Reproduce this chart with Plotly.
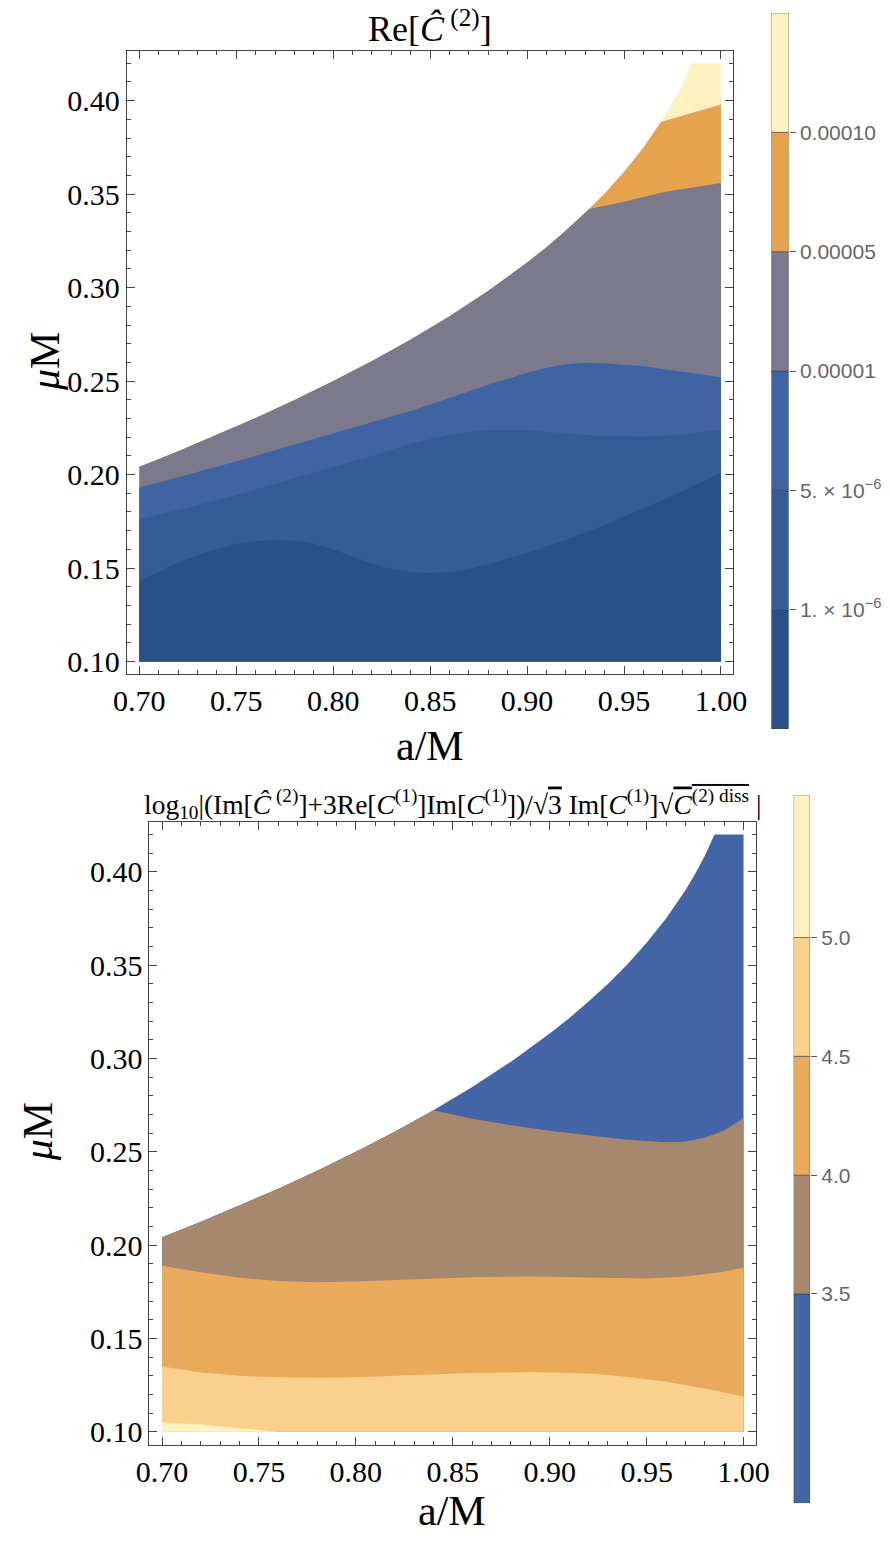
import plotly.graph_objects as go

# ---------------- data ----------------
# physical boundary of the domain (same in both panels)
edge_a = [0.70, 0.72, 0.74, 0.76, 0.78, 0.80, 0.82, 0.84, 0.86, 0.88, 0.90, 0.91, 0.92,
          0.93, 0.94, 0.95, 0.96, 0.97, 0.975, 0.98, 0.985, 1.00]
edge_mu = [0.2042, 0.2125, 0.2212, 0.2303, 0.2399, 0.2500, 0.2608, 0.2723, 0.2847,
           0.2983, 0.3134, 0.3216, 0.3305, 0.3400, 0.3504, 0.3620, 0.3750, 0.3902,
           0.3989, 0.4087, 0.4200, 0.4200]
mu_min = 0.10

# top panel: Re[C^(2)] contour boundaries
top_c1_a = [0.70, 0.71, 0.72, 0.73, 0.74, 0.75, 0.76, 0.77, 0.78, 0.79, 0.80, 0.81, 0.82, 0.83,
            0.84, 0.85, 0.86, 0.87, 0.88, 0.90, 0.92, 0.94, 0.96, 0.98, 1.00]
top_c1_mu = [0.143, 0.148, 0.153, 0.157, 0.160, 0.163, 0.1645, 0.165, 0.1648, 0.163, 0.160, 0.156,
             0.1525, 0.1495, 0.1478, 0.1473, 0.1478, 0.1495, 0.152, 0.158, 0.165, 0.173, 0.182,
             0.191, 0.201]
top_c2_a = [0.70, 0.72, 0.75, 0.78, 0.80, 0.82, 0.84, 0.86, 0.88, 0.90, 0.92, 0.94, 0.96, 0.98, 1.00]
top_c2_mu = [0.176, 0.181, 0.189, 0.198, 0.204, 0.210, 0.2165, 0.2215, 0.2238, 0.2238, 0.222,
             0.2205, 0.2203, 0.2215, 0.224]
top_c3_a = [0.70, 0.75, 0.80, 0.84, 0.86, 0.88, 0.90, 0.91, 0.92, 0.93, 0.94, 0.96, 0.98, 1.00]
top_c3_mu = [0.193, 0.207, 0.222, 0.234, 0.241, 0.248, 0.2545, 0.257, 0.259, 0.2598, 0.2596,
             0.258, 0.255, 0.252]
top_c4_a = [0.932, 0.95, 0.97, 1.00]
top_c4_mu = [0.3421, 0.346, 0.351, 0.356]
top_c5_a = [0.969, 0.98, 1.00]
top_c5_mu = [0.3886, 0.392, 0.398]
top_levels = ["1. × 10<sup>−6</sup>", "5. × 10<sup>−6</sup>", "0.00001", "0.00005", "0.00010"]
top_colors = ["#27538a", "#355c97", "#4063a3", "#7a7a8c", "#e6a24d", "#fdf2c0"]

# bottom panel: log10 ratio contour boundaries
bot_c1_a = [0.84, 0.86, 0.88, 0.90, 0.92, 0.94, 0.96, 0.97, 0.98, 0.99, 1.00]
bot_c1_mu = [0.2723, 0.2678, 0.2643, 0.2613, 0.2588, 0.2565, 0.2552, 0.2555, 0.2575, 0.2615, 0.268]
bot_c2_a = [0.70, 0.72, 0.74, 0.76, 0.78, 0.80, 0.83, 0.86, 0.89, 0.92, 0.95, 0.97, 0.99, 1.00]
bot_c2_mu = [0.189, 0.1855, 0.1825, 0.1808, 0.1802, 0.1805, 0.1818, 0.1828, 0.1832, 0.1828,
             0.1822, 0.1832, 0.1858, 0.188]
bot_c3_a = [0.70, 0.72, 0.74, 0.76, 0.78, 0.80, 0.83, 0.86, 0.89, 0.92, 0.94, 0.96, 0.98, 1.00]
bot_c3_mu = [0.135, 0.1318, 0.130, 0.1292, 0.129, 0.1293, 0.1303, 0.1315, 0.132, 0.1312, 0.1295,
             0.1268, 0.1232, 0.119]
bot_c4_a = [0.70, 0.72, 0.74, 0.76]
bot_c4_mu = [0.105, 0.104, 0.102, 0.100]
bot_levels = [2.62, 3.5, 4.0, 4.5, 5.0, 5.6]
bot_ticks = [3.5, 4.0, 4.5, 5.0]
bot_colors = ["#4466a6", "#a5886e", "#eaaa5c", "#f9d18c", "#fef2c2"]

# ---------------- helpers ----------------
def domain_poly():
    xs = [edge_a[0]] + edge_a + [edge_a[-1], edge_a[0]]
    ys = [mu_min] + edge_mu + [mu_min, mu_min]
    return xs, ys

def below_poly(ca, cm):
    xs, ys = [edge_a[0]], [mu_min]
    if ca[0] > edge_a[0] + 1e-9:
        for a, m in zip(edge_a, edge_mu):
            if a < ca[0] - 1e-9:
                xs.append(a); ys.append(m)
    xs += list(ca); ys += list(cm)
    xs += [ca[-1], edge_a[0]]; ys += [mu_min, mu_min]
    return xs, ys

fig = go.Figure()

def add_fill(xs, ys, color, xa, ya):
    fig.add_trace(go.Scatter(x=xs, y=ys, fill="toself", fillcolor=color, mode="lines",
                             line=dict(width=0, color=color), hoverinfo="skip",
                             showlegend=False, xaxis=xa, yaxis=ya))

# top panel (painter order: top colour first)
x, y = domain_poly(); add_fill(x, y, top_colors[5], "x", "y")
x, y = below_poly(top_c5_a, top_c5_mu); add_fill(x, y, top_colors[4], "x", "y")
x, y = below_poly(top_c4_a, top_c4_mu); add_fill(x, y, top_colors[3], "x", "y")
x, y = below_poly(top_c3_a, top_c3_mu); add_fill(x, y, top_colors[2], "x", "y")
x, y = below_poly(top_c2_a, top_c2_mu); add_fill(x, y, top_colors[1], "x", "y")
x, y = below_poly(top_c1_a, top_c1_mu); add_fill(x, y, top_colors[0], "x", "y")

# bottom panel
x, y = domain_poly(); add_fill(x, y, bot_colors[0], "x2", "y2")
x, y = below_poly(bot_c1_a, bot_c1_mu); add_fill(x, y, bot_colors[1], "x2", "y2")
x, y = below_poly(bot_c2_a, bot_c2_mu); add_fill(x, y, bot_colors[2], "x2", "y2")
x, y = below_poly(bot_c3_a, bot_c3_mu); add_fill(x, y, bot_colors[3], "x2", "y2")
x, y = below_poly(bot_c4_a, bot_c4_mu); add_fill(x, y, bot_colors[4], "x2", "y2")

# colour bars as stacked bars
for i, c in enumerate(top_colors):
    fig.add_trace(go.Bar(x=[0.5], y=[1], base=[i], width=[1],
                         marker=dict(color=c, line=dict(color="rgba(60,60,60,0.7)", width=0.8)),
                         hoverinfo="skip", showlegend=False, xaxis="x3", yaxis="y3"))
for i, c in enumerate(bot_colors):
    fig.add_trace(go.Bar(x=[0.5], y=[bot_levels[i + 1] - bot_levels[i]], base=[bot_levels[i]], width=[1],
                         marker=dict(color=c, line=dict(color="rgba(60,60,60,0.7)", width=0.8)),
                         hoverinfo="skip", showlegend=False, xaxis="x4", yaxis="y4"))

W, H = 890, 1543
def px(v): return v / W
def py(v): return 1 - v / H

serif = "Liberation Serif"
frame = "#444444"
tickfont = dict(family=serif, size=30, color="black")
cbfont = dict(family="Liberation Sans", size=21, color="#666")

def main_axis(domain, rng, anchor):
    return dict(domain=domain, range=rng, anchor=anchor, showline=True, linecolor=frame, linewidth=1,
                mirror="allticks", ticks="inside", ticklen=8, tickcolor=frame, tickwidth=1,
                dtick=0.05, tick0=0, tickformat=".2f", showgrid=False, zeroline=False,
                tickfont=tickfont,
                minor=dict(ticks="inside", ticklen=4, dtick=0.01, tick0=0, tickcolor=frame, showgrid=False))

xr = [0.6935, 1.0063]
yr = [0.0932, 0.4268]
fig.update_layout(
    width=W, height=H, margin=dict(l=0, r=0, t=0, b=0),
    paper_bgcolor="white", plot_bgcolor="white", barmode="overlay",
    xaxis=main_axis([px(117.3), px(742.7)], xr, "y"),
    yaxis=main_axis([py(676), py(50.7)], yr, "x"),
    xaxis2=main_axis([px(140.7), px(766)], xr, "y2"),
    yaxis2=main_axis([py(1448.3), py(824)], yr, "x2"),
    xaxis3=dict(domain=[px(782), px(800)], range=[0, 1], anchor="y3", visible=False, fixedrange=True),
    yaxis3=dict(domain=[py(731), py(13)], range=[0, 6], anchor="x3", side="right",
                tickvals=[1, 2, 3, 4, 5], ticktext=top_levels, ticks="outside", ticklen=6,
                tickcolor="#555", showgrid=False, zeroline=False, showline=False, tickfont=cbfont),
    xaxis4=dict(domain=[px(805), px(822)], range=[0, 1], anchor="y4", visible=False, fixedrange=True),
    yaxis4=dict(domain=[py(1507), py(797)], range=[bot_levels[0], bot_levels[-1]], anchor="x4", side="right",
                tickvals=bot_ticks, ticktext=["%.1f" % t for t in bot_ticks], ticks="outside", ticklen=6,
                tickcolor="#555", showgrid=False, zeroline=False, showline=False, tickfont=cbfont),
)

ann = [
    dict(text="Re[<i>Ĉ</i><sup> (2)</sup>]", x=px(430), y=py(27), size=36),
    dict(text="log<sub>10</sub>|(Im[<i>Ĉ</i><sup> (2)</sup>]+3Re[<i>C</i><sup>(1)</sup>]Im[<i>C</i><sup>(1)</sup>])/√"
              "<span style='text-decoration:overline'>3</span> Im[<i>C</i><sup>(1)</sup>]√"
              "<span style='text-decoration:overline'><i>C</i><sup>(2) diss</sup></span> |",
         x=px(453), y=py(806), size=27.5),
    dict(text="a/M", x=px(430), y=py(748), size=42),
    dict(text="a/M", x=px(453), y=py(1515), size=42),
]
for a in ann:
    fig.add_annotation(text=a["text"], x=a["x"], y=a["y"], xref="paper", yref="paper",
                       showarrow=False, xanchor="center", yanchor="middle",
                       font=dict(family=serif, size=a["size"], color="black"))
for xx, yy in [(33, 362), (26, 1135)]:
    fig.add_annotation(text="<i>μ</i>M", x=px(xx), y=py(yy), xref="paper", yref="paper",
                       showarrow=False, textangle=-90, xanchor="center", yanchor="middle",
                       font=dict(family=serif, size=42, color="black"))

fig.write_html("out.html")
